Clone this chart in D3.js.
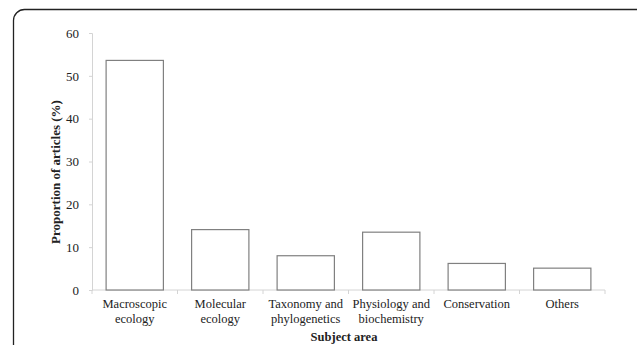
<!DOCTYPE html>
<html>
<head>
<meta charset="utf-8">
<script src="https://cdn.jsdelivr.net/npm/d3@7"></script>
<style>
  body { margin: 0; background: #fff; }
  svg { display: block; font-family: "Liberation Serif", "Times New Roman", serif; }
</style>
</head>
<body>
<svg width="637" height="345"></svg>
<script>
var categories = [
  ["Macroscopic", "ecology"],
  ["Molecular", "ecology"],
  ["Taxonomy and", "phylogenetics"],
  ["Physiology and", "biochemistry"],
  ["Conservation"],
  ["Others"]
];
var values = [53.6, 14.1, 8.0, 13.5, 6.2, 5.1];
var yTicks = [0, 10, 20, 30, 40, 50, 60];

var svg = d3.select("svg");

// rounded frame round the figure
svg.append("rect")
  .attr("x", 13.5).attr("y", 9.5)
  .attr("width", 660).attr("height", 400)
  .attr("rx", 11)
  .style("fill", "none")
  .style("stroke", "#222")
  .style("stroke-width", 1.3);

var plotLeft = 92, plotRight = 605, plotTop = 33, plotBottom = 290;

var x = d3.scaleBand()
  .domain(d3.range(categories.length))
  .range([plotLeft, plotRight])
  .paddingInner(0.33)
  .paddingOuter(0.165);

var y = d3.scaleLinear().domain([0, 60]).range([plotBottom, plotTop]);

// y axis
var yAxis = d3.axisLeft(y).tickValues(yTicks).tickSize(3).tickPadding(10);
var gy = svg.append("g").attr("transform", "translate(" + plotLeft + ",0)").call(yAxis);
gy.select(".domain").attr("stroke", "#d4d4d4");
gy.selectAll(".tick line").attr("stroke", "#d4d4d4");
gy.selectAll(".tick text")
  .style("font-family", "Liberation Serif")
  .style("font-size", "13px")
  .style("fill", "#222");

// baseline
svg.append("line")
  .attr("x1", plotLeft).attr("x2", plotRight)
  .attr("y1", y(0)).attr("y2", y(0))
  .style("stroke", "#d4d4d4");

// category boundary ticks
d3.range(categories.length + 1).forEach(function (i) {
  var xx = plotLeft + i * (plotRight - plotLeft) / categories.length;
  svg.append("line")
    .attr("x1", xx).attr("x2", xx)
    .attr("y1", y(0)).attr("y2", y(0) + 4)
    .style("stroke", "#d4d4d4");
});

// bars
svg.selectAll("rect.bar")
  .data(values)
  .enter()
  .append("rect")
  .attr("class", "bar")
  .attr("x", function (d, i) { return x(i); })
  .attr("width", x.bandwidth())
  .attr("y", function (d) { return y(d); })
  .attr("height", function (d) { return y(0) - y(d); })
  .style("fill", "#fff")
  .style("stroke", "#808080")
  .style("stroke-width", 1.2);

// category labels
var labels = svg.selectAll("text.cat")
  .data(categories)
  .enter()
  .append("text")
  .attr("class", "cat")
  .attr("text-anchor", "middle")
  .attr("x", function (d, i) { return x(i) + x.bandwidth() / 2; })
  .attr("y", 308)
  .style("font-size", "12.5px")
  .style("fill", "#222");

labels.selectAll("tspan")
  .data(function (d) { return d; })
  .enter()
  .append("tspan")
  .attr("x", function () { return d3.select(this.parentNode).attr("x"); })
  .attr("dy", function (d, i) { return i ? 14.5 : 0; })
  .text(function (d) { return d; });

// axis titles
svg.append("text")
  .attr("x", 344).attr("y", 341)
  .attr("text-anchor", "middle")
  .style("font-size", "12.5px")
  .style("font-weight", "bold")
  .style("fill", "#222")
  .text("Subject area");

svg.append("text")
  .attr("transform", "translate(60,172) rotate(-90)")
  .attr("text-anchor", "middle")
  .style("font-size", "13px")
  .style("font-weight", "bold")
  .style("fill", "#222")
  .text("Proportion of articles (%)");
</script>
</body>
</html>
